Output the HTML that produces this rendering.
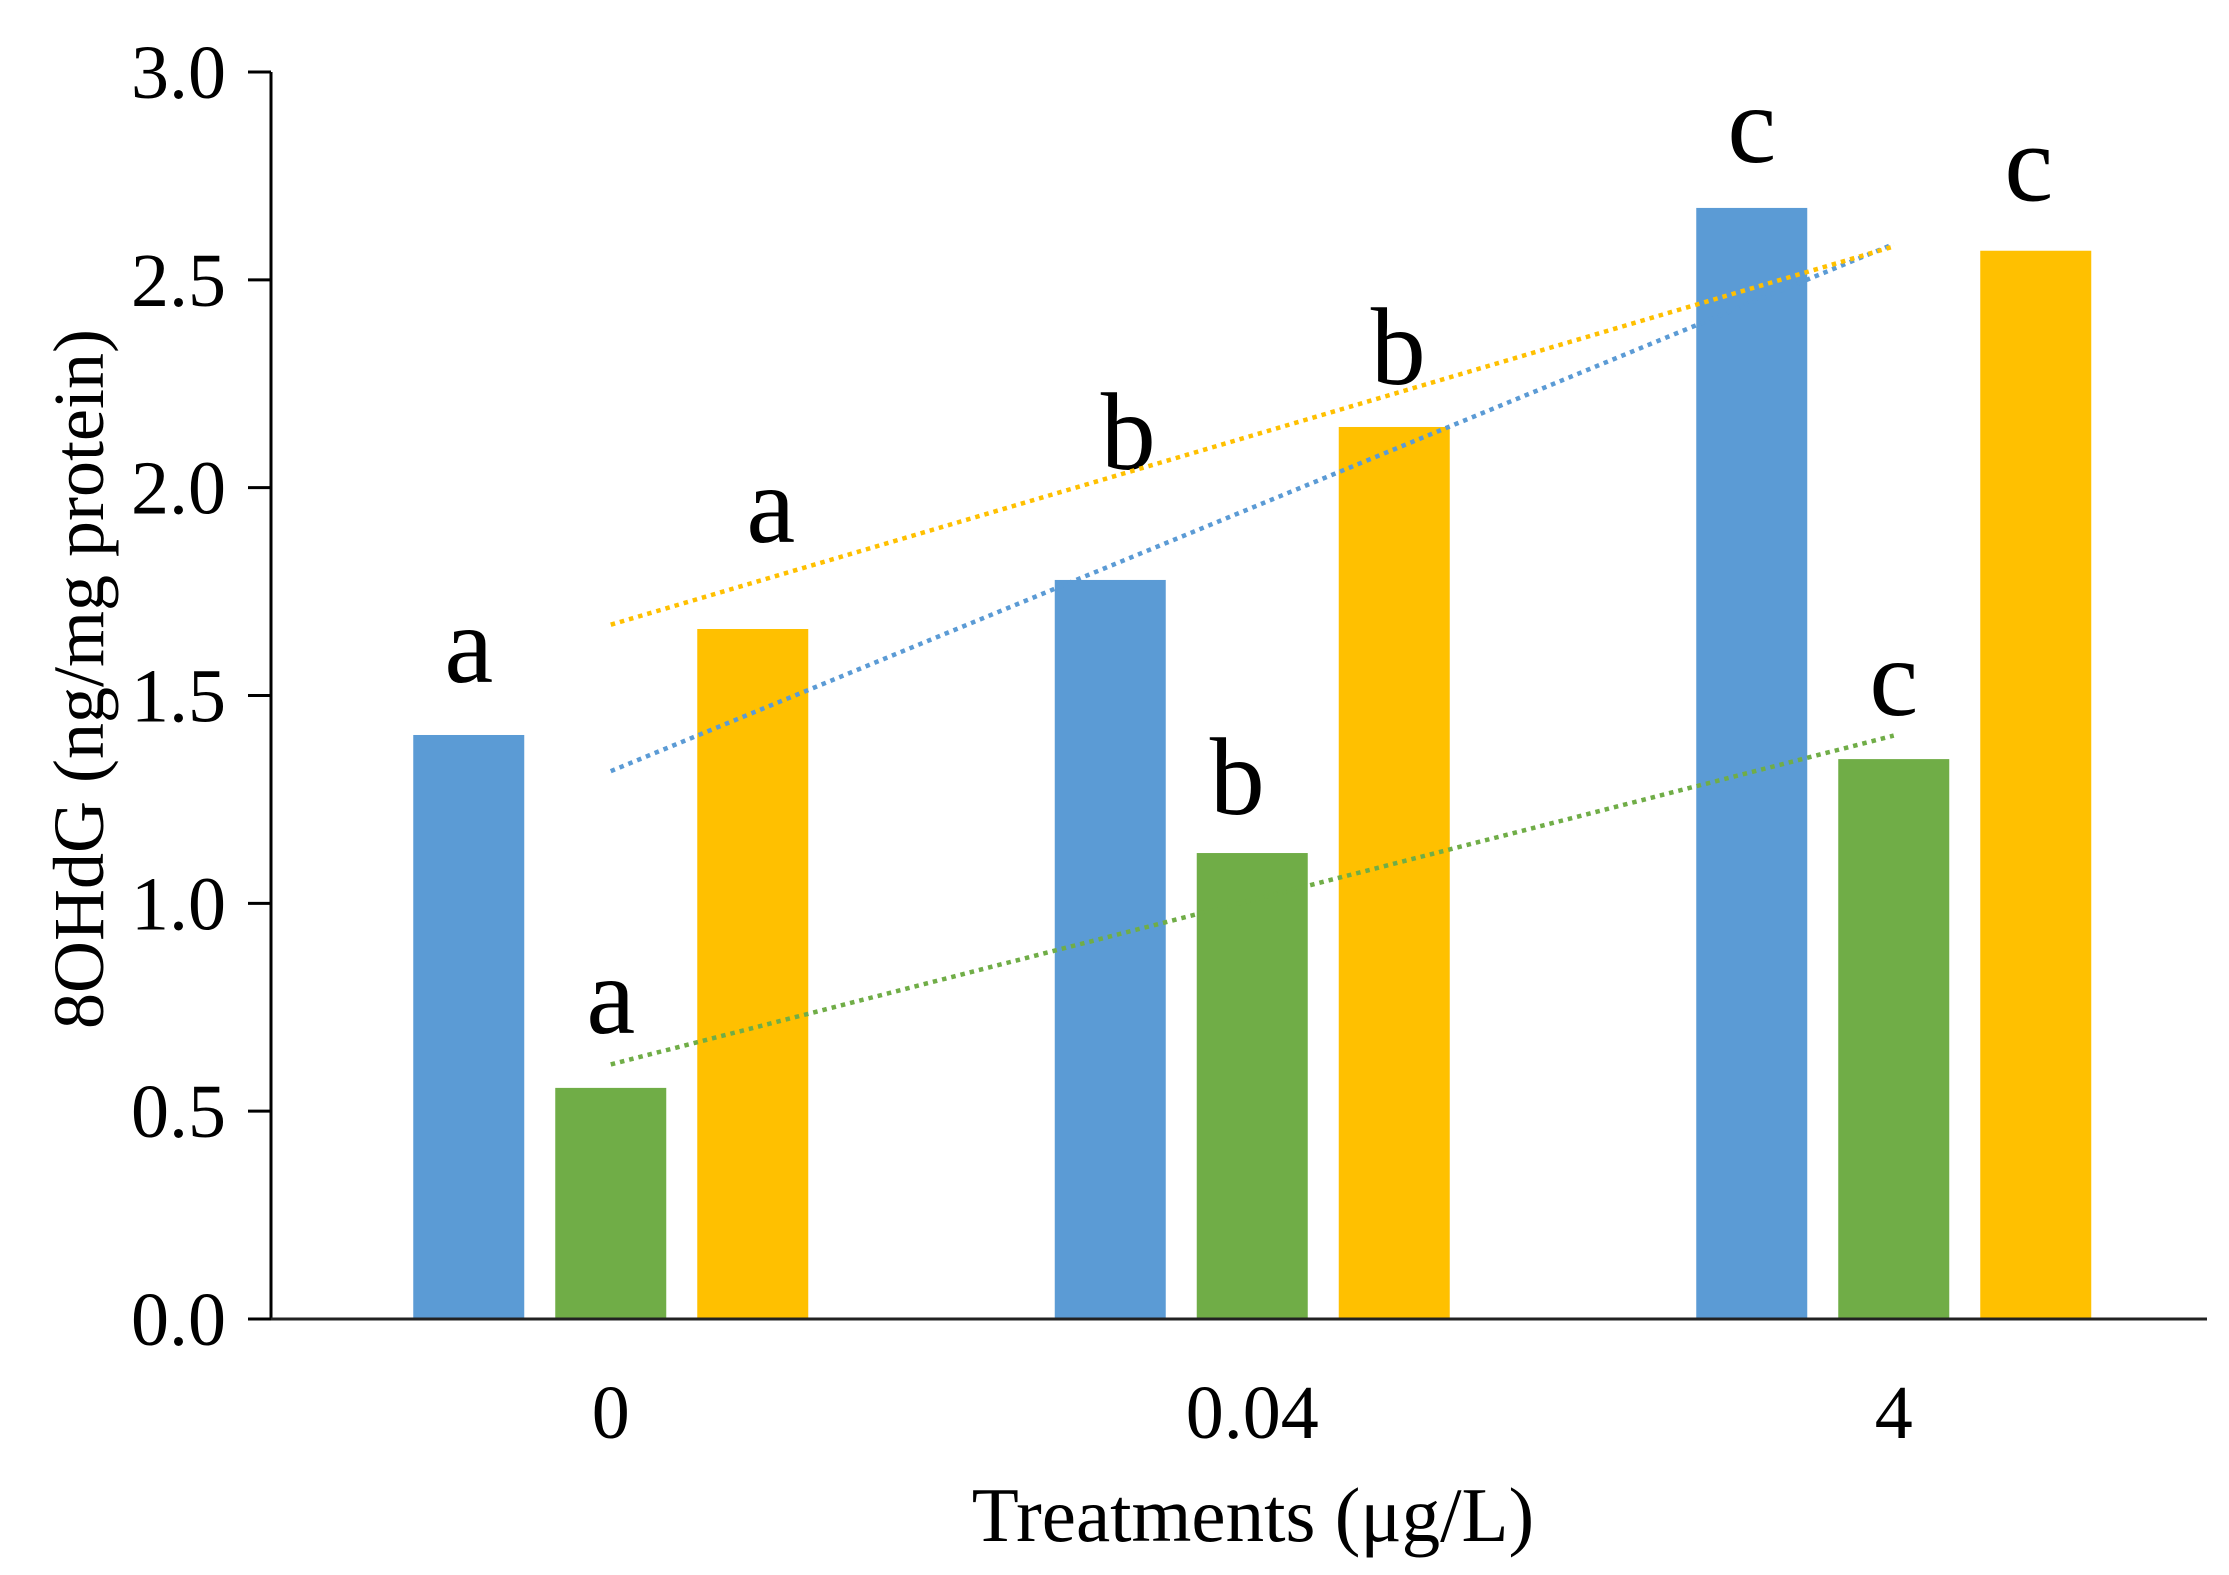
<!DOCTYPE html>
<html><head><meta charset="utf-8"><style>
html,body{margin:0;padding:0;background:#fff}
svg{display:block}
text{font-family:"Liberation Serif",serif;fill:#000}
</style></head><body>
<svg id="chart" width="2229" height="1575" viewBox="0 0 2229 1575">
<g id="plot"></g>
</svg>
<script>
const categories = ["0", "0.04", "4"];
const seriesBlue = [1.405, 1.778, 2.673];
const seriesGreen = [0.556, 1.121, 1.347];
const seriesYellow = [1.66, 2.146, 2.57];
const lettersBlue = ["a", "b", "c"];
const lettersGreen = ["a", "b", "c"];
const lettersYellow = ["a", "b", "c"];
const yTicks = [0, 0.5, 1.0, 1.5, 2.0, 2.5, 3.0];
const yTickLabels = ["0.0", "0.5", "1.0", "1.5", "2.0", "2.5", "3.0"];

// layout nudges for letter placement (not data)
const letterLift = [[53, 111, 46], [55, 39, 44], [87, 43, 50]];
const letterShift = [[0, 18, 0], [0, -15, 0], [18, 4, -7]];

const NS = "http://www.w3.org/2000/svg";
const g = document.getElementById("plot");
const AX = 271, AXEND = 2207;
const X0 = 290, Y0 = 1319, Y3 = 72;
const band = 641.5;
const yMax = 3;
function yScale(v){ return Y0 - (v / yMax) * (Y0 - Y3); }
function xCenter(i){ return X0 + band * (i + 0.5); }
const barW = 111, step = 142;

function mk(tag, attrs){
  const e = document.createElementNS(NS, tag);
  for (const k in attrs) e.setAttribute(k, attrs[k]);
  g.appendChild(e);
  return e;
}

const series = [
  {vals: seriesBlue, letters: lettersBlue, color: "#5B9BD5", name: "blue"},
  {vals: seriesGreen, letters: lettersGreen, color: "#70AD47", name: "green"},
  {vals: seriesYellow, letters: lettersYellow, color: "#FFC000", name: "yellow"}
];

series.forEach((s, si) => {
  s.vals.forEach((v, i) => {
    const cx = xCenter(i) + (si - 1) * step;
    const r = mk("rect", {x: cx - barW/2, y: yScale(v), width: barW, height: Y0 - yScale(v), fill: s.color});
    
    
    const t = mk("text", {x: cx + letterShift[si][i], y: yScale(v) - letterLift[si][i], "text-anchor": "middle", "font-size": 110});
    t.textContent = s.letters[i];
    
    
  });
});

series.forEach(s => {
  const n = s.vals.length;
  const mx = (n - 1) / 2;
  const my = s.vals.reduce((a, b) => a + b, 0) / n;
  let num = 0, den = 0;
  s.vals.forEach((v, i) => { num += (i - mx) * (v - my); den += (i - mx) * (i - mx); });
  const slope = num / den, icpt = my - slope * mx;
  const l = mk("line", {x1: xCenter(0), y1: yScale(icpt), x2: xCenter(n - 1), y2: yScale(icpt + slope * (n - 1)),
    stroke: s.color, "stroke-width": 4.5, "stroke-dasharray": "4.5 5"});
  
  
});

const ya = mk("line", {x1: AX, y1: Y3, x2: AX, y2: Y0, stroke: "#000", "stroke-width": 3});


const xa = mk("line", {x1: 248, y1: Y0, x2: AXEND, y2: Y0, stroke: "#222", "stroke-width": 3});



yTicks.forEach((v, i) => {
  const tk = mk("line", {x1: 248, y1: yScale(v), x2: AX, y2: yScale(v), stroke: "#000", "stroke-width": 3});
  
  
  const t = mk("text", {x: 226, y: yScale(v) + 26, "text-anchor": "end", "font-size": 76});
  t.textContent = yTickLabels[i];
  
  
});

categories.forEach((c, i) => {
  const t = mk("text", {x: xCenter(i), y: 1438, "text-anchor": "middle", "font-size": 76});
  t.textContent = c;
  
  
});

const xt = mk("text", {x: 1253, y: 1541, "text-anchor": "middle", "font-size": 77});
xt.textContent = "Treatments (μg/L)";



const yt = mk("text", {x: 0, y: 0, "text-anchor": "middle", "font-size": 72, transform: "translate(103,679) rotate(-90)"});
yt.textContent = "8OHdG (ng/mg protein)";


</script>
</body></html>
